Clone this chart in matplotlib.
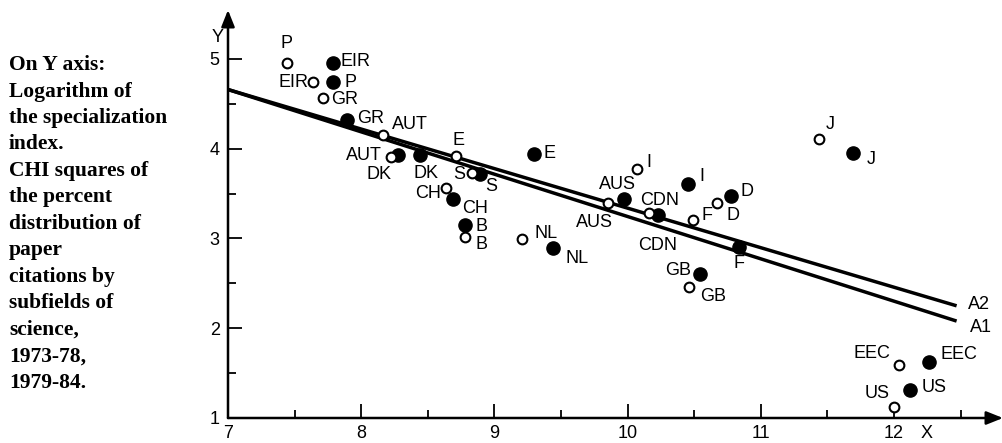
import matplotlib
matplotlib.use("Agg")
import matplotlib.pyplot as plt
from matplotlib.ticker import FixedLocator

# ---------------- data ----------------
countries = ["P", "EIR", "GR", "AUT", "DK", "CH", "E", "S", "B", "NL",
             "AUS", "I", "CDN", "F", "GB", "D", "J", "EEC", "US"]

# open circles (1973-78)
x_open = [7.44, 7.64, 7.71, 8.16, 8.22, 8.64, 8.71, 8.83, 8.78, 9.21,
          9.85, 10.07, 10.16, 10.49, 10.46, 10.67, 11.44, 12.04, 12.00]
y_open = [4.96, 4.74, 4.57, 4.15, 3.91, 3.56, 3.92, 3.73, 3.02, 2.99,
          3.40, 3.77, 3.28, 3.21, 2.46, 3.40, 4.11, 1.59, 1.12]

# filled circles (1979-84)
x_fill = [7.79, 7.79, 7.89, 8.28, 8.44, 8.69, 9.30, 8.89, 8.78, 9.44,
          9.97, 10.45, 10.23, 10.84, 10.54, 10.78, 11.69, 12.26, 12.12]
y_fill = [4.74, 4.96, 4.32, 3.93, 3.93, 3.44, 3.94, 3.72, 3.15, 2.89,
          3.44, 3.61, 3.26, 2.91, 2.60, 3.47, 3.95, 1.62, 1.31]

# regression lines
line_x = [7.0, 12.47]
a1_y = [4.66, 2.08]
a2_y = [4.66, 2.25]
line_names = ["A1", "A2"]

x_ticks = [7, 8, 9, 10, 11, 12]
y_ticks = [1, 2, 3, 4, 5]

side_text = ["On Y axis:", "Logarithm of", "the specialization", "index.",
             "CHI squares of", "the percent", "distribution of", "paper",
             "citations by", "subfields of", "science,", "1973-78,", "1979-84."]

# ---------------- layout (label offsets in pixels) ----------------
open_lab = {
    "P": (0, 19, "center"), "EIR": (-5, 0, "right"), "GR": (9, -2, "left"),
    "AUT": (9, 11, "left"), "DK": (-12, -18, "center"), "CH": (-5, -5, "right"),
    "E": (3, 15, "center"), "S": (-7, -2, "right"), "B": (10, -8, "left"),
    "NL": (12, 6, "left"), "AUS": (-13, -20, "center"), "I": (9, 7, "left"),
    "CDN": (9, -32, "center"), "F": (9, 4, "left"), "GB": (11, -10, "left"),
    "D": (10, -13, "left"), "J": (6, 14, "left"), "EEC": (-9, 12, "right"),
    "US": (-4, 14, "right"),
}
fill_lab = {
    "EIR": (7, 1, "left"), "P": (11, 0, "left"), "GR": (11, 2, "left"),
    "AUT": (-17, 0, "right"), "DK": (6, -18, "center"), "CH": (9, -9, "left"),
    "E": (9, 1, "left"), "S": (5, -13, "left"), "B": (10, -1, "left"),
    "NL": (12, -10, "left"), "AUS": (-6, 15, "center"), "I": (12, 7, "left"),
    "CDN": (1, 15, "center"), "F": (0, -17, "center"), "GB": (-8, 4, "right"),
    "D": (9, 5, "left"), "J": (14, -6, "left"), "EEC": (12, 8, "left"),
    "US": (12, 3, "left"),
}

W, H = 1003, 443
fig = plt.figure(figsize=(W / 100, H / 100), dpi=100)
fig.patch.set_facecolor("white")
ax = fig.add_axes([228 / W, 25 / H, (W - 228) / W, (418 - 10) / H])
ax.set_xlim(7, 7 + 775 / 133.2)
ax.set_ylim(1, 1 + 408 / 89.75)
for s in ax.spines.values():
    s.set_visible(False)

sans = "Liberation Sans"
fs = 13

# axes with arrows
arrow = dict(arrowstyle="-|>,head_length=1.0,head_width=0.4", lw=1.8,
             color="black", shrinkA=0, shrinkB=0, mutation_scale=10)
xl, yl = ax.get_xlim(), ax.get_ylim()
ax.annotate("", xy=(xl[1], yl[0]), xytext=(xl[0], yl[0]), arrowprops=arrow,
            annotation_clip=False)
ax.annotate("", xy=(xl[0], yl[1]), xytext=(xl[0], yl[0]), arrowprops=arrow,
            annotation_clip=False)

ax.xaxis.set_major_locator(FixedLocator(x_ticks))
ax.xaxis.set_minor_locator(FixedLocator([7.5, 8.5, 9.5, 10.5, 11.5, 12.5]))
ax.yaxis.set_major_locator(FixedLocator(y_ticks))
ax.yaxis.set_minor_locator(FixedLocator([1.5, 2.5, 3.5, 4.5]))
ax.set_xticklabels([str(t) for t in x_ticks], fontfamily=sans, fontsize=fs)
ax.set_yticklabels([str(t) for t in y_ticks], fontfamily=sans, fontsize=fs)
ax.tick_params(which="major", direction="in", length=10, width=1.3, pad=5)
ax.tick_params(which="minor", direction="in", length=6, width=1.3)
ax.tick_params(axis="y", pad=6)
ax.tick_params(top=False, right=False)

# lines
ax.plot(line_x, a1_y, color="black", lw=2.5, solid_capstyle="butt", zorder=2)
ax.plot(line_x, a2_y, color="black", lw=2.5, solid_capstyle="butt", zorder=2)
ax.annotate(line_names[1], (line_x[1], a2_y[1]), xytext=(11, 1),
            textcoords="offset pixels", ha="left", va="center",
            fontfamily=sans, fontsize=fs)
ax.annotate(line_names[0], (line_x[1], a1_y[1]), xytext=(13, -6),
            textcoords="offset pixels", ha="left", va="center",
            fontfamily=sans, fontsize=fs)

# points
ax.plot(x_open, y_open, "o", ms=7, mfc="white", mec="black", mew=1.5,
        ls="none", zorder=4, clip_on=False)
ax.plot(x_fill, y_fill, "o", ms=9.5, mfc="black", mec="black",
        ls="none", zorder=3, clip_on=False)

for c, x, y in zip(countries, x_open, y_open):
    dx, dy, ha = open_lab[c]
    ax.annotate(c, (x, y), xytext=(dx, dy), textcoords="offset pixels",
                ha=ha, va="center", fontfamily=sans, fontsize=fs, zorder=5)
for c, x, y in zip(countries, x_fill, y_fill):
    dx, dy, ha = fill_lab[c]
    ax.annotate(c, (x, y), xytext=(dx, dy), textcoords="offset pixels",
                ha=ha, va="center", fontfamily=sans, fontsize=fs, zorder=5)

# axis letters
fig.text(927 / W, 1 - 433 / H, "X", ha="center", va="center",
         fontfamily=sans, fontsize=fs)
fig.text(218 / W, 1 - 37 / H, "Y", ha="center", va="center",
         fontfamily=sans, fontsize=fs)

# side text
for i, line in enumerate(side_text):
    fig.text(9 / W, 1 - (65 + i * 26.5) / H, line, ha="left", va="center",
             fontfamily="Liberation Serif", fontweight="bold", fontsize=15.5)

fig.savefig("out.png", dpi=100, facecolor="white")
